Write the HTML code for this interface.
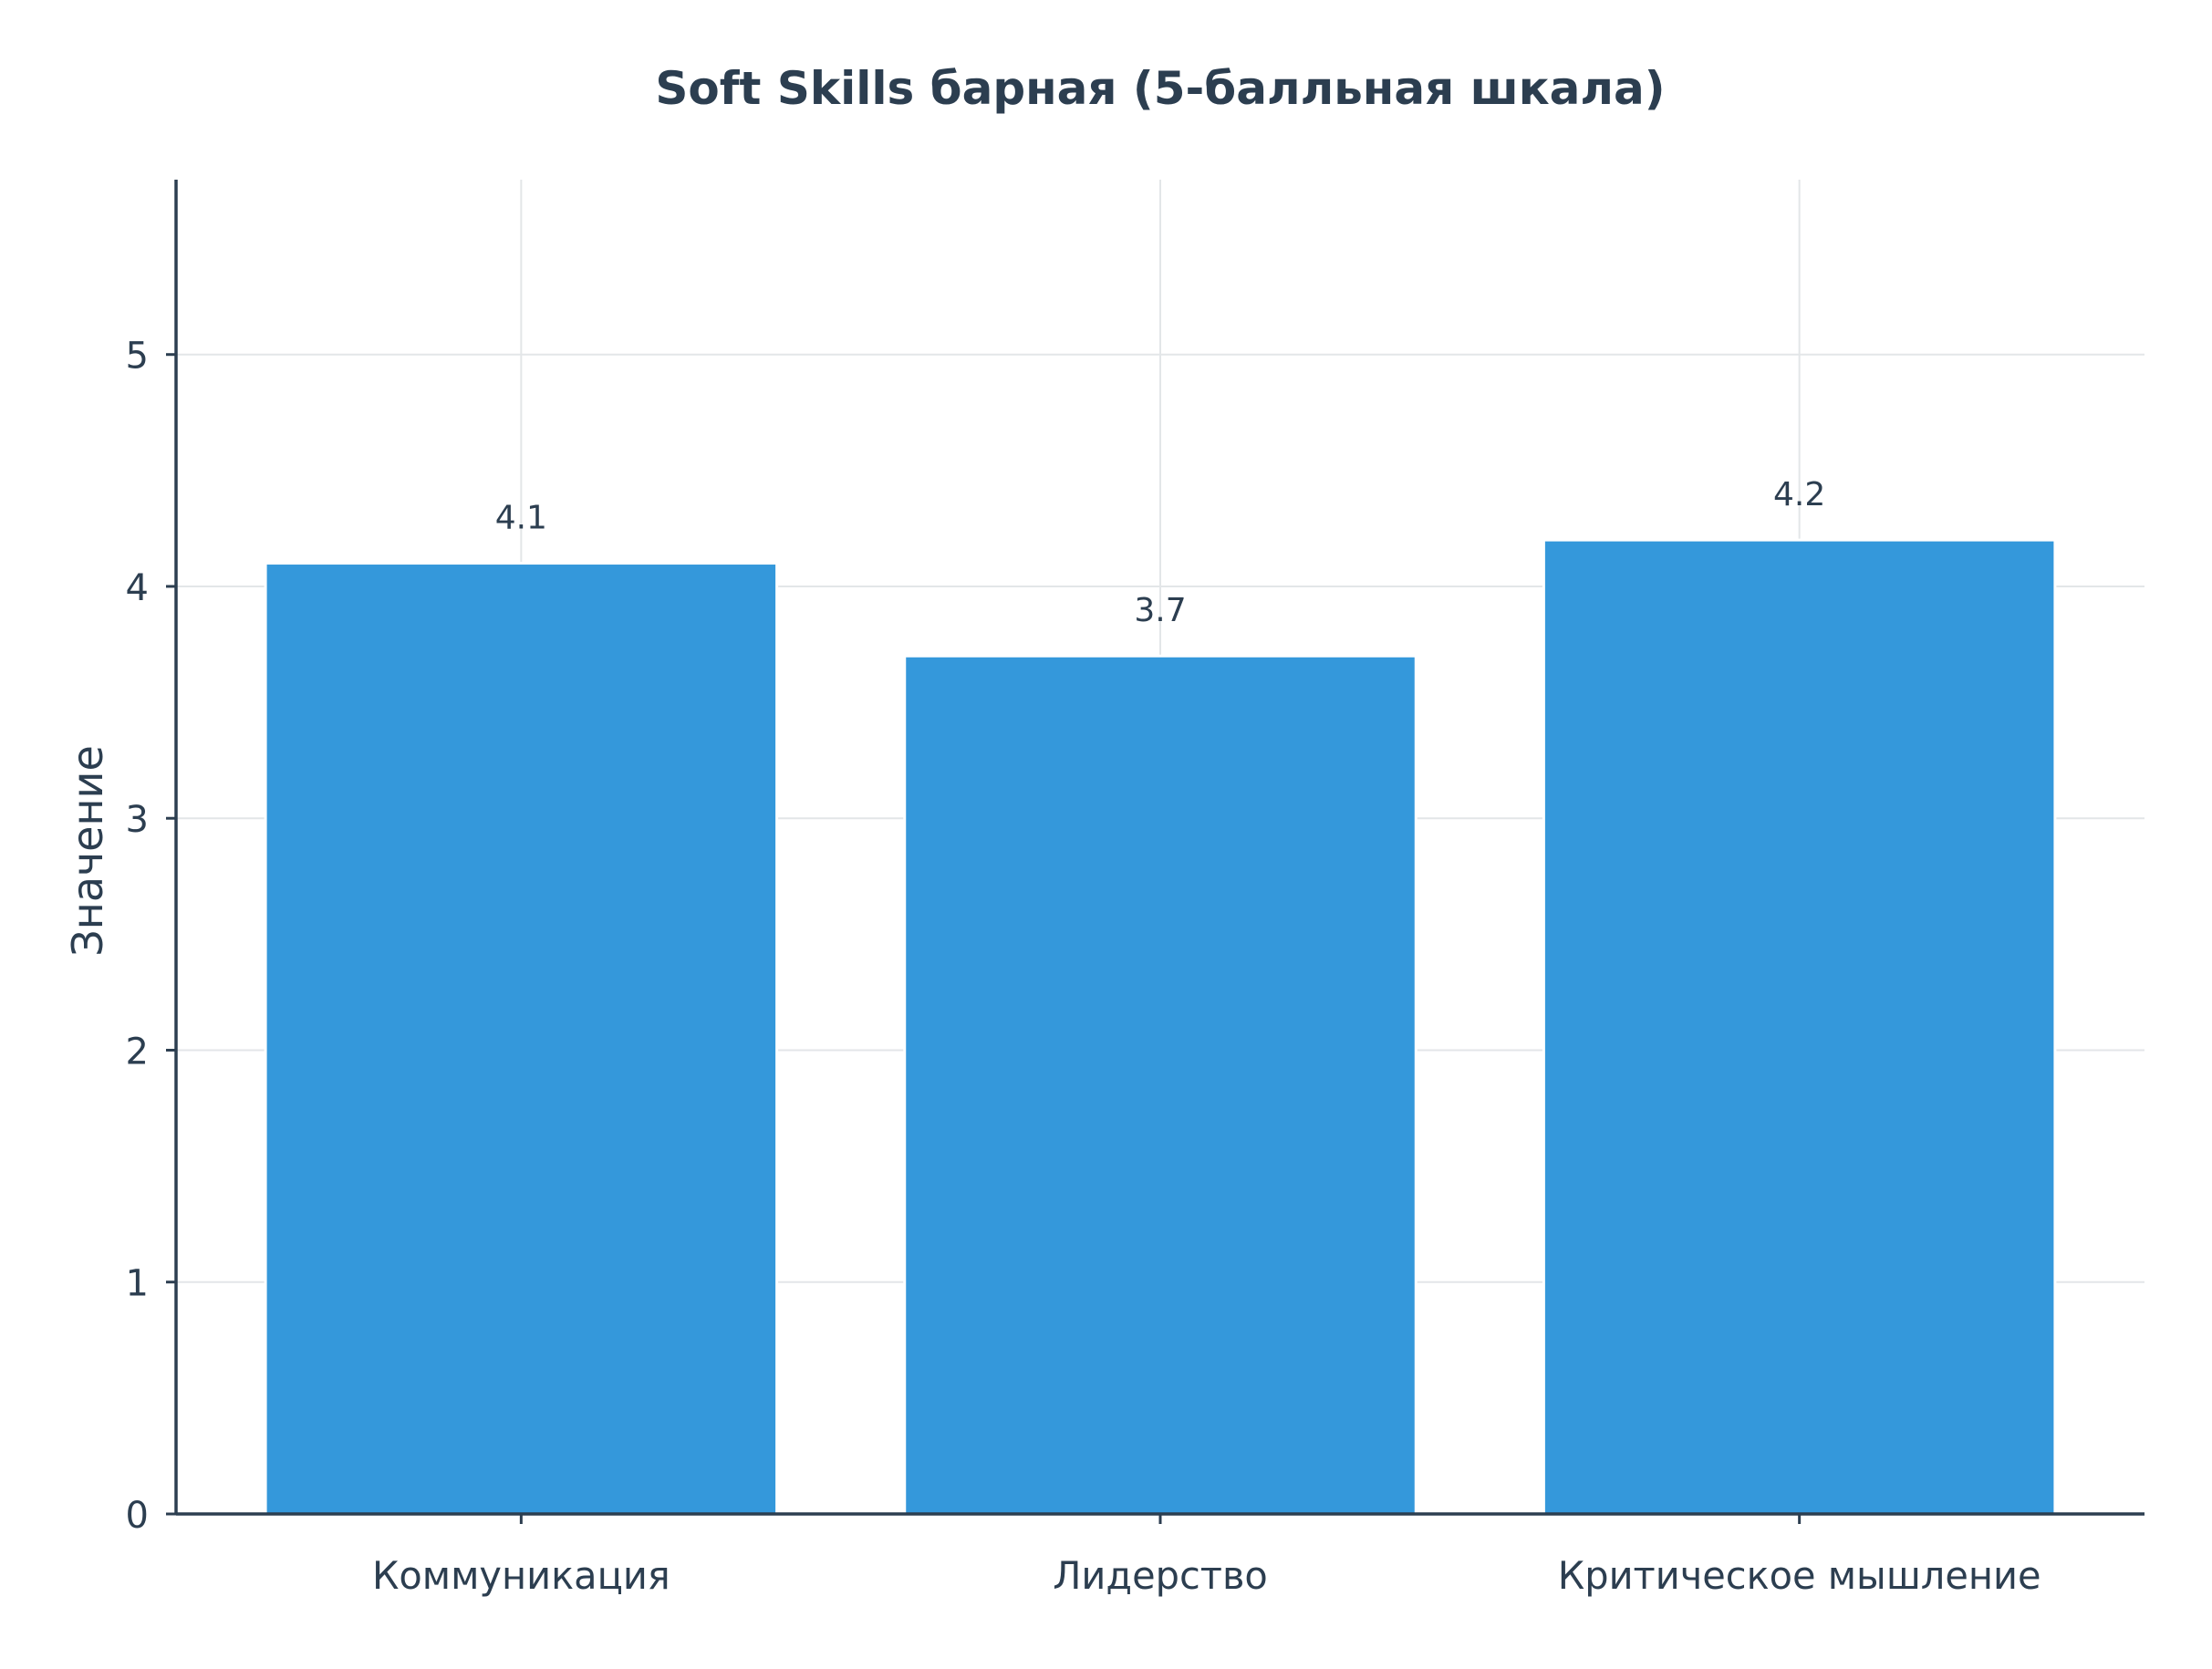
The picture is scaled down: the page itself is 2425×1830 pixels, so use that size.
<!DOCTYPE html>
<html><head><meta charset="utf-8"><style>
body{margin:0;background:#fff;}
svg text{font-family:"DejaVu Sans","Liberation Sans",sans-serif;fill:#2c3e50;}
</style></head><body>
<svg id="chart" width="2425" height="1825" viewBox="0 0 2425 1825" xmlns="http://www.w3.org/2000/svg">
<rect width="2425" height="1825" fill="#fff"/>
<text x="1272" y="114" font-size="50" font-weight="bold" text-anchor="middle">Soft Skills барная (5-балльная шкала)</text>
<text transform="translate(112,933) rotate(-90)" font-size="46" text-anchor="middle">Значение</text>
<g id="grid"></g><g id="bars"></g><g id="axes"></g>
</svg>
<script>
const categories = ["Коммуникация", "Лидерство", "Критическое мышление"];
const values = [4.1, 3.7, 4.2];
const valueLabels = ["4.1", "3.7", "4.2"];
const yTicks = [0, 1, 2, 3, 4, 5];

const NS = "http://www.w3.org/2000/svg";
const L = 193, R = 2351, T = 197, B = 1660;
const yMax = 5.754, xMin = -0.54, xMax = 2.54;
const ys = v => B - v / yMax * (B - T);
const xs = i => L + (i - xMin) / (xMax - xMin) * (R - L);
const bw = 0.8 * (R - L) / (xMax - xMin);
function mk(tag, attrs, parent) { const e = document.createElementNS(NS, tag); for (const k in attrs) e.setAttribute(k, attrs[k]); parent.appendChild(e); return e; }
const grid = document.getElementById("grid"), bars = document.getElementById("bars"), axes = document.getElementById("axes");

yTicks.forEach(t => {
  const y = ys(t);
  if (t > 0) {
    const g = mk("line", {x1: L, x2: R, y1: y, y2: y, stroke: "#e3e6e8", "stroke-width": 2}, grid);
    
    
  }
  const tk = mk("line", {x1: L - 11, x2: L, y1: y, y2: y, stroke: "#2c3e50", "stroke-width": 3}, axes);
  
  
  const lb = mk("text", {x: L - 30, y: y + 15, "font-size": 40, "text-anchor": "end"}, axes);
  lb.textContent = String(t);
  
  
});

categories.forEach((c, i) => {
  const x = xs(i);
  const g = mk("line", {x1: x, x2: x, y1: T, y2: B, stroke: "#e3e6e8", "stroke-width": 2}, grid);
  
  
  const b = mk("rect", {x: x - bw / 2, y: ys(values[i]), width: bw, height: B - ys(values[i]), fill: "#3498db", stroke: "#fff", "stroke-width": 3}, bars);
  
  
  const v = mk("text", {x: x, y: ys(values[i]) - 38, "font-size": 36, "text-anchor": "middle"}, bars);
  v.textContent = valueLabels[i];
  
  
  const tk = mk("line", {x1: x, x2: x, y1: B, y2: B + 11, stroke: "#2c3e50", "stroke-width": 3}, axes);
  
  
  const lb = mk("text", {x: x, y: B + 82, "font-size": 41.5, "text-anchor": "middle"}, axes);
  lb.textContent = c;
  
  
});

const ya = mk("line", {x1: L, x2: L, y1: T, y2: B, stroke: "#2c3e50", "stroke-width": 3.5}, axes);


const xa = mk("line", {x1: L, x2: R, y1: B, y2: B, stroke: "#2c3e50", "stroke-width": 3.5}, axes);


</script>
</body></html>
